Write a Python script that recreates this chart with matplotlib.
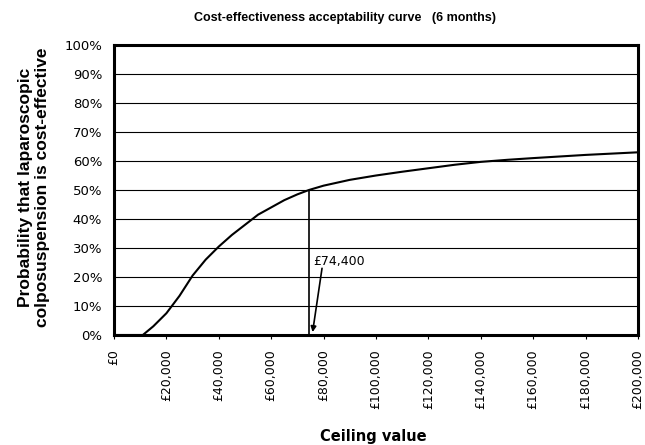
import matplotlib
matplotlib.use("Agg")
import matplotlib.pyplot as plt

plt.rcParams['font.family'] = ['DejaVu Sans']

# Data
ceiling = [0, 11000, 15000, 20000, 25000, 30000, 35000, 40000, 45000, 50000,
           55000, 60000, 65000, 70000, 74400, 80000, 90000, 100000, 110000,
           120000, 130000, 140000, 150000, 160000, 180000, 200000]
prob = [0.0, 0.0, 0.03, 0.075, 0.135, 0.205, 0.26, 0.305, 0.345, 0.38,
        0.415, 0.44, 0.465, 0.485, 0.50, 0.515, 0.535, 0.55, 0.563,
        0.575, 0.587, 0.597, 0.604, 0.61, 0.621, 0.63]
threshold_value = 74400
threshold_prob = 0.50
threshold_label = "£74,400"
x_ticks = list(range(0, 200001, 20000))
x_tick_labels = ["£0", "£20,000", "£40,000", "£60,000", "£80,000", "£100,000",
                 "£120,000", "£140,000", "£160,000", "£180,000", "£200,000"]
y_ticks = [i / 10 for i in range(11)]
y_tick_labels = [f"{i*10}%" for i in range(11)]

fig = plt.figure(figsize=(6.45, 4.45), dpi=100)
ax = fig.add_axes([114/645, 1-335/445, (638-114)/645, (335-45)/445])

ax.set_xlim(0, 200000)
ax.set_ylim(0, 1)
ax.set_yticks(y_ticks)
ax.set_yticklabels(y_tick_labels, fontsize=9.5)
ax.set_xticks(x_ticks)
ax.set_xticklabels(x_tick_labels, fontsize=9, rotation=90)
ax.tick_params(axis='y', length=0, pad=8.6)
ax.tick_params(axis='x', length=3, pad=7.5)
ax.grid(axis='y', color='black', linewidth=0.8)
ax.set_axisbelow(True)
for s in ax.spines.values():
    s.set_linewidth(2.2)

ax.plot(ceiling, prob, color='black', linewidth=1.5)
ax.vlines([threshold_value], 0, [threshold_prob], color='black', linewidth=1.2)
ax.text(76000, 0.255, threshold_label, fontsize=9, va='center', ha='left')
ax.annotate("", xy=(75800, 0.01), xytext=(79400, 0.23),
            arrowprops=dict(arrowstyle='-|>', color='black', lw=1.2,
                            shrinkA=0, shrinkB=0, mutation_scale=8))

fig.text(345/645, 1-18/445, "Cost-effectiveness acceptability curve   (6 months)",
         ha='center', va='center', fontsize=9, fontweight='bold',
         family=['Liberation Sans', 'DejaVu Sans'])
fig.text(34/645, 1-187/445,
         "Probability that laparoscopic\ncolposuspension is cost-effective",
         ha='center', va='center', rotation=90, fontsize=12.5,
         fontweight='bold', multialignment='center', linespacing=1.15,
         family=['Liberation Sans', 'DejaVu Sans'])
fig.text(373/645, 1-436/445, "Ceiling value", ha='center', va='center',
         fontsize=10.5, fontweight='bold')

fig.savefig("out.png", dpi=100)
